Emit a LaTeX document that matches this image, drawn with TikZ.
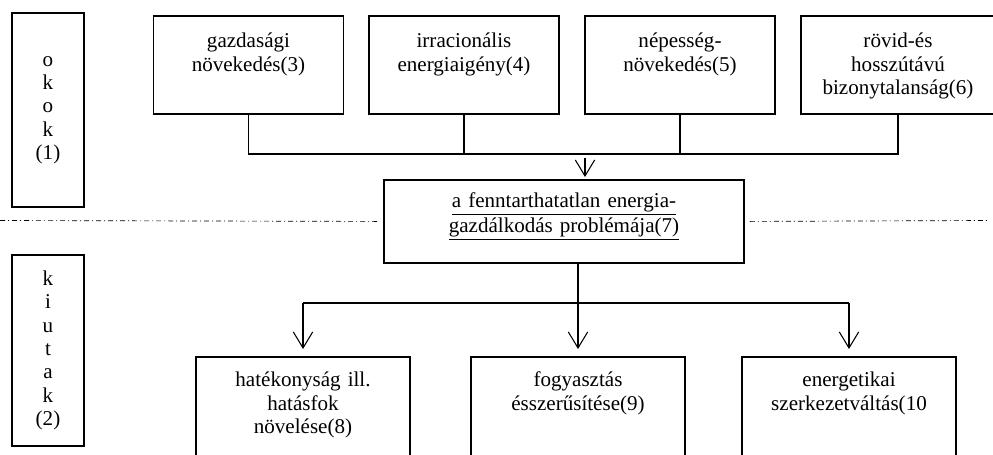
\documentclass[tikz,border=0pt]{standalone}
\usepackage{fontspec}
\setmainfont{Liberation Serif}
\usetikzlibrary{arrows.meta, positioning}

\begin{document}
\begin{tikzpicture}[x=0.75pt, y=-0.75pt,
        every node/.style={font=\fontsize{15.8pt}{17.5pt}\selectfont},
        box/.style={draw, line width=1.4pt, align=center, inner sep=0pt},
        sidebox/.style={box, text width=54pt, minimum height=#1},
        topbox/.style={box, anchor=north, text width=#1, text height=24pt, text depth=49.5pt},
        lowbox/.style={box, anchor=north, text width=160.5pt, text height=22.5pt, text depth=82.5pt},
        conn/.style={line width=1.4pt},
        arr/.style={-{Straight Barb[length=12pt, width=14.5pt, line width=0.8pt]}},
        sepline/.style={line width=0.5pt, dash pattern=on 3.75pt off 2.25pt on 0.75pt off 2.25pt}]
    \clip (0,0) rectangle (993,454);
    % side labels
    \node[sidebox=145.5pt] (okok) at (48,110) {o\\k\\o\\k\\(1)};
    \node[sidebox=143.25pt] (kiutak) at (48,350.5) {k\\i\\u\\t\\a\\k\\(2)};
    % causes
    \node[topbox=142.5pt] (gazd) at (248.5,15) {gazdasági\\növekedés(3)};
    \node[topbox=142.5pt] (irrac) at (464,15) {irracionális\\energiaigény(4)};
    \node[topbox=142.5pt] (nepes) at (680,15) {népesség-\\növekedés(5)};
    \node[topbox=145.5pt] (bizony) at (898,15) {rövid-és\\hosszútávú\\bizonytalanság(6)};
    % the problem
    \node[box, anchor=north, text width=270pt, text height=21pt, text depth=41.25pt] (prob) at (564,179)
        {\underline{a fenntarthatatlan energia-}\\[1pt]\underline{gazdálkodás problémája(7)}};
    % ways out
    \node[lowbox] (hatek) at (303,356) {hatékonyság ill.\\hatásfok\\növelése(8)};
    \node[lowbox] (fogy) at (578,356) {fogyasztás\\ésszerűsítése(9)};
    \node[lowbox] (szerk) at (849,356) {energetikai\\szerkezetváltás(10};

    \coordinate (topbus) at (0,154);
    \coordinate (lowbus) at (0,303);
    \coordinate (arrstart) at (585,158);
    \coordinate (sepl) at (0,220.5);
    \coordinate (sepr) at (988,220.5);

    \draw[conn] (gazd.south) -- (gazd.south |- topbus) -- (bizony.south |- topbus) -- (bizony.south);
    \draw[conn] (irrac.south) -- (irrac.south |- topbus);
    \draw[conn] (nepes.south) -- (nepes.south |- topbus);
    \draw[arr, line width=0.8pt, shorten >=1.5pt] (arrstart) -- (arrstart |- prob.north);

    \draw[conn, arr, shorten >=5.25pt] (prob.south -| fogy.north) -- (fogy.north);
    \draw[conn] (hatek.north |- lowbus) -- (szerk.north |- lowbus);
    \draw[conn, arr, shorten >=5.25pt] (hatek.north |- lowbus) -- (hatek.north);
    \draw[conn, arr, shorten >=5.25pt] (szerk.north |- lowbus) -- (szerk.north);

    \draw[sepline, shorten >=3.75pt] (sepl) -- (prob.west);
    \draw[sepline, shorten <=3.75pt] (prob.east) -- (sepr);
\end{tikzpicture}
\end{document}
